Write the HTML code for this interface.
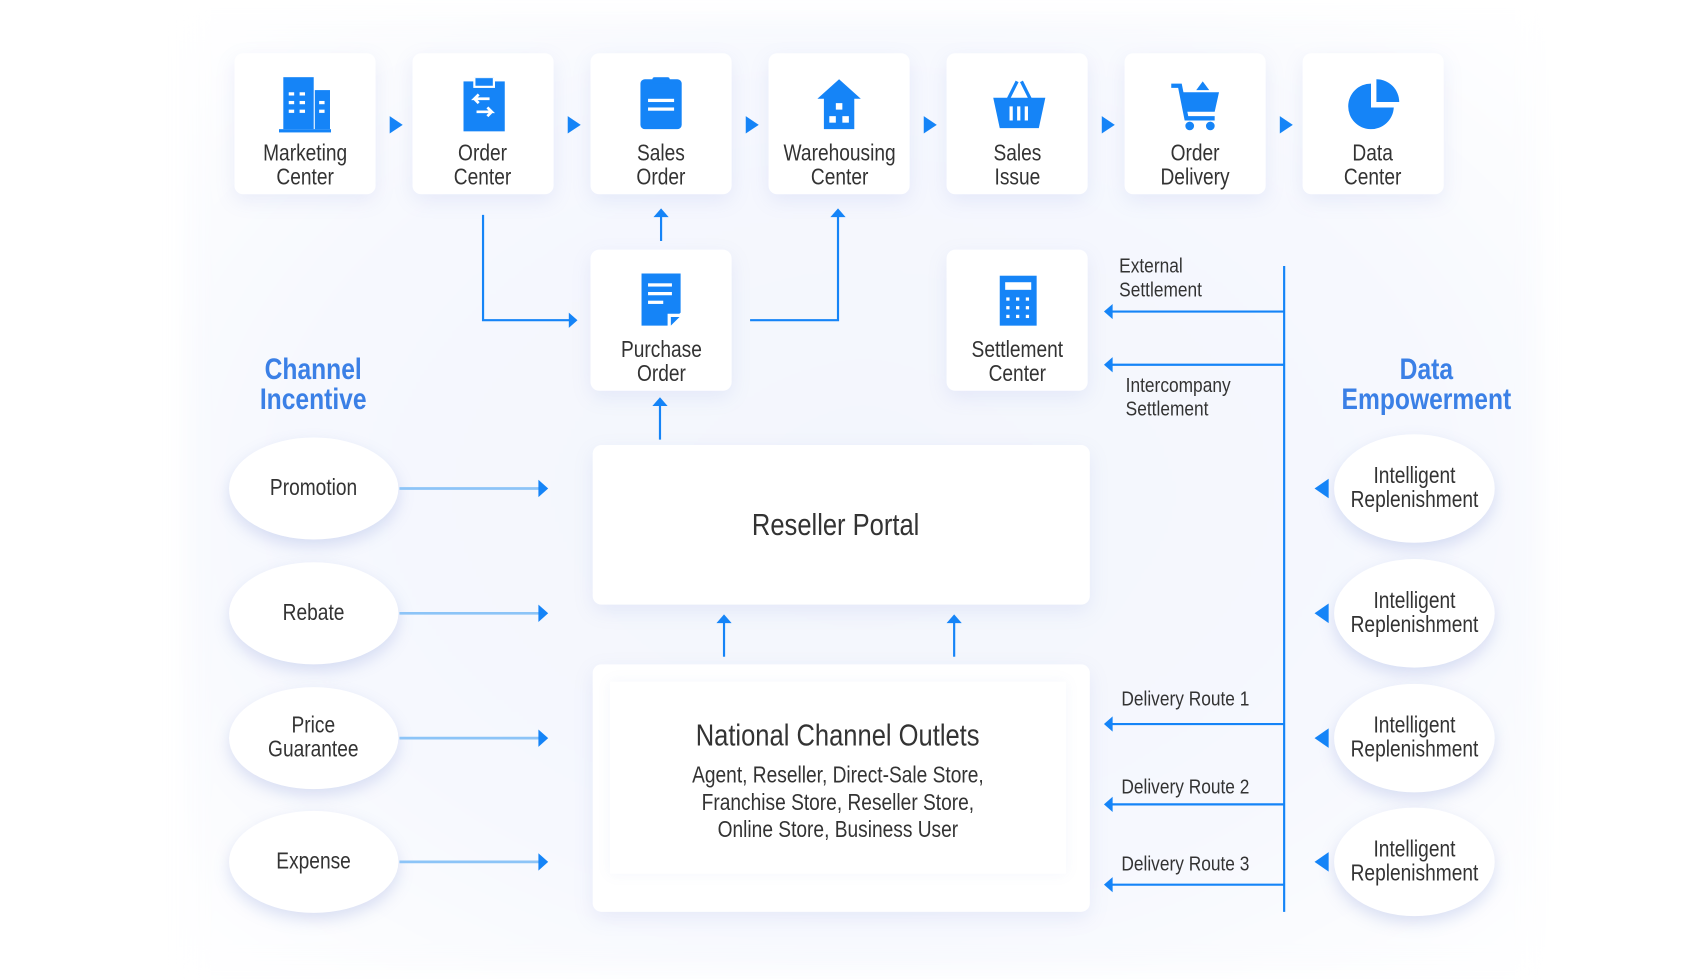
<!DOCTYPE html>
<html><head><meta charset="utf-8"><style>
html,body{margin:0;padding:0;background:#fff;width:1702px;height:979px;overflow:hidden}
#w{position:absolute;left:0;top:0;width:1568px;height:902px;transform:scale(1.0855);transform-origin:0 0;font-family:"Liberation Sans",sans-serif;color:#333}
.n{display:inline-block;transform:scaleX(.84);transform-origin:center}
.bg{position:absolute;left:170px;top:15px;width:1250px;height:880px;background:radial-gradient(ellipse at center,#f3f6fd 0%,#f6f8fe 60%,#fff 100%);filter:blur(10px)}
.box{position:absolute;background:#fff;border-radius:8px;box-shadow:0 6px 18px rgba(120,140,220,.13)}
.tb{width:130px;height:130px;text-align:center}
.tb .t{position:absolute;left:-20px;right:-20px;top:82px;font-size:21px;line-height:22px}
.tb svg{position:absolute;left:41px;top:22px}
.ell{position:absolute;background:#fff;border-radius:50%;box-shadow:0 6px 14px rgba(120,140,210,.25);display:flex;align-items:center;justify-content:center;text-align:center;font-size:21px;line-height:22px}
.h{position:absolute;color:#3b80e6;font-weight:bold;font-size:27px;line-height:28px;text-align:center}
.lbl{position:absolute;font-size:19px;line-height:22px;color:#333}
.lbl .n{transform-origin:left}
svg.ov{position:absolute;left:0;top:0}
</style></head><body><div id="w">
<div class="bg"></div>

<div class="box tb" style="left:216px;top:49px"><svg width="48" height="52" viewBox="0 0 48 52"><rect x="4" y="0" width="28" height="48" fill="#1584f7"/><rect x="33" y="12" width="14" height="36" fill="#1584f7"/><rect x="0" y="48" width="48" height="3" fill="#1584f7"/><g fill="#fff"><rect x="9" y="14" width="5" height="3"/><rect x="19" y="14" width="5" height="3"/><rect x="9" y="22" width="5" height="3"/><rect x="19" y="22" width="5" height="3"/><rect x="9" y="30" width="5" height="3"/><rect x="19" y="30" width="5" height="3"/><rect x="37" y="22" width="5" height="3"/><rect x="37" y="30" width="5" height="3"/></g></svg><div class="t"><span class="n">Marketing<br>Center</span></div></div>
<div class="box tb" style="left:380px;top:49px"><svg width="48" height="52" viewBox="0 0 48 52"><rect x="6" y="4" width="38" height="46" fill="#1584f7"/><rect x="16" y="0" width="18" height="9" fill="#1584f7" stroke="#fff" stroke-width="2"/><path d="M30 20H16l4-4M16 20l4 4M18 32h14l-4-4M32 32l-4 4" stroke="#fff" stroke-width="2.5" fill="none"/></svg><div class="t"><span class="n">Order<br>Center</span></div></div>
<div class="box tb" style="left:544px;top:49px"><svg width="48" height="52" viewBox="0 0 48 52"><rect x="5" y="2" width="38" height="46" rx="4" fill="#1584f7"/><rect x="16" y="0" width="16" height="6" rx="2" fill="#1584f7"/><rect x="12" y="20" width="24" height="3" fill="#fff"/><rect x="12" y="28" width="24" height="3" fill="#fff"/></svg><div class="t"><span class="n">Sales<br>Order</span></div></div>
<div class="box tb" style="left:708px;top:49px"><svg width="48" height="52" viewBox="0 0 48 52"><path d="M24 2L4 20h6v28h28V20h6z" fill="#1584f7"/><g fill="#fff"><rect x="21" y="24" width="6" height="6"/><rect x="15" y="36" width="6" height="6"/><rect x="27" y="36" width="6" height="6"/></g></svg><div class="t"><span class="n">Warehousing<br>Center</span></div></div>
<div class="box tb" style="left:872px;top:49px"><svg width="52" height="52" viewBox="0 0 52 52"><path d="M16 20L24 4M36 20L28 4" stroke="#1584f7" stroke-width="3"/><path d="M2 19h48l-6 28H8z" fill="#1584f7"/><g fill="#fff"><rect x="17" y="27" width="3" height="13"/><rect x="24" y="27" width="3" height="13"/><rect x="31" y="27" width="3" height="13"/></g></svg><div class="t"><span class="n">Sales<br>Issue</span></div></div>
<div class="box tb" style="left:1036px;top:49px"><svg width="50" height="52" viewBox="0 0 50 52"><path d="M2 8h8l6 30h26" stroke="#1584f7" stroke-width="4" fill="none"/><path d="M12 14h34l-4 18H16z" fill="#1584f7"/><path d="M31 4l6 8H25z" fill="#1584f7"/><circle cx="19" cy="45" r="4" fill="#1584f7"/><circle cx="38" cy="45" r="4" fill="#1584f7"/></svg><div class="t"><span class="n">Order<br>Delivery</span></div></div>
<div class="box tb" style="left:1200px;top:49px"><svg width="52" height="52" viewBox="0 0 52 52"><path d="M22 6A21 21 0 1 0 43 28H22z" fill="#1584f7"/><path d="M27 2A21 21 0 0 1 48 23H27z" fill="#1584f7"/></svg><div class="t"><span class="n">Data<br>Center</span></div></div>

<div class="box tb" style="left:544px;top:230px"><svg width="48" height="52" viewBox="0 0 48 52"><path d="M6 0h36v36l-12 12H6z" fill="#1584f7"/><g fill="#fff"><rect x="12" y="9" width="22" height="3"/><rect x="12" y="17" width="22" height="3"/><rect x="12" y="25" width="14" height="3"/></g><path d="M30 37h12L30 49z" fill="#fff"/><path d="M33 40h8l-8 8z" fill="#1584f7"/></svg><div class="t"><span class="n">Purchase<br>Order</span></div></div>
<div class="box tb" style="left:872px;top:230px"><svg width="48" height="52" viewBox="0 0 48 52"><rect x="8" y="2" width="34" height="46" fill="#1584f7"/><rect x="13" y="8" width="24" height="7" fill="#fff"/><g fill="#fff"><rect x="14" y="22" width="3" height="3"/><rect x="23" y="22" width="3" height="3"/><rect x="32" y="22" width="3" height="3"/><rect x="14" y="30" width="3" height="3"/><rect x="23" y="30" width="3" height="3"/><rect x="32" y="30" width="3" height="3"/><rect x="14" y="38" width="3" height="3"/><rect x="23" y="38" width="3" height="3"/><rect x="32" y="38" width="3" height="3"/></g></svg><div class="t"><span class="n">Settlement<br>Center</span></div></div>

<div class="box" style="left:546px;top:410px;width:458px;height:147px;display:flex;align-items:center;justify-content:center;font-size:28px;padding-left:0"><span class="n" style="margin-left:-10px">Reseller Portal</span></div>
<div class="box" style="left:546px;top:612px;width:458px;height:228px"></div>
<div style="position:absolute;left:562px;top:628px;width:420px;height:177px;background:#fff;box-shadow:0 0 12px rgba(120,140,220,.08);text-align:center">
<div style="font-size:28px;margin-top:34px"><span class="n">National Channel Outlets</span></div>
<div style="font-size:21px;line-height:25px;margin-top:8px"><span class="n">Agent, Reseller, Direct-Sale Store,<br>Franchise Store, Reseller Store,<br>Online Store, Business User</span></div></div>

<div class="h" style="left:189px;top:326px;width:200px"><span class="n">Channel<br>Incentive</span></div>
<div class="h" style="left:1204px;top:326px;width:220px"><span class="n">Data<br>Empowerment</span></div>

<div class="ell" style="left:211px;top:403px;width:156px;height:94px"><span class="n">Promotion</span></div>
<div class="ell" style="left:211px;top:518px;width:156px;height:94px"><span class="n">Rebate</span></div>
<div class="ell" style="left:211px;top:633px;width:156px;height:94px"><span class="n">Price<br>Guarantee</span></div>
<div class="ell" style="left:211px;top:747px;width:156px;height:94px"><span class="n">Expense</span></div>

<div class="ell" style="left:1229px;top:400px;width:148px;height:100px"><span class="n">Intelligent<br>Replenishment</span></div>
<div class="ell" style="left:1229px;top:515px;width:148px;height:100px"><span class="n">Intelligent<br>Replenishment</span></div>
<div class="ell" style="left:1229px;top:630px;width:148px;height:100px"><span class="n">Intelligent<br>Replenishment</span></div>
<div class="ell" style="left:1229px;top:744px;width:148px;height:100px"><span class="n">Intelligent<br>Replenishment</span></div>

<div class="lbl" style="left:1031px;top:235px"><span class="n">External<br>Settlement</span></div>
<div class="lbl" style="left:1037px;top:345px"><span class="n">Intercompany<br>Settlement</span></div>
<div class="lbl" style="left:1033px;top:634px"><span class="n">Delivery Route 1</span></div>
<div class="lbl" style="left:1033px;top:715px"><span class="n">Delivery Route 2</span></div>
<div class="lbl" style="left:1033px;top:786px"><span class="n">Delivery Route 3</span></div>

<svg class="ov" width="1568" height="902">
<g fill="#1584f7">
<path d="M359 107l12 8-12 8z"/><path d="M523 107l12 8-12 8z"/><path d="M687 107l12 8-12 8z"/><path d="M851 107l12 8-12 8z"/><path d="M1015 107l12 8-12 8z"/><path d="M1179 107l12 8-12 8z"/>
</g>
<g stroke="#1584f7" stroke-width="2" fill="none">
<path d="M445 198V295H526"/><path d="M691 295H772V198"/><path d="M609 222V198"/><path d="M608 405V372"/>
<path d="M667 605V572"/><path d="M879 605V572"/>
<path d="M1183 245V840"/>
<path d="M1183 287H1022"/><path d="M1183 336H1022"/><path d="M1183 667H1022"/><path d="M1183 741H1022"/><path d="M1183 815H1022"/>
</g>
<g stroke="#8cc4f7" stroke-width="2.5"><path d="M368 450H498"/><path d="M368 565H498"/><path d="M368 680H498"/><path d="M368 794H498"/></g>
<g fill="#1584f7">
<path d="M524 288l8 7-8 7z"/><path d="M765 200l7-8 7 8z"/><path d="M602 200l7-8 7 8z"/><path d="M601 374l7-8 7 8z"/>
<path d="M660 574l7-8 7 8z"/><path d="M872 574l7-8 7 8z"/>
<path d="M1025 280l-8 7 8 7z"/><path d="M1025 329l-8 7 8 7z"/><path d="M1025 660l-8 7 8 7z"/><path d="M1025 734l-8 7 8 7z"/><path d="M1025 808l-8 7 8 7z"/>
<path d="M496 442l9 8-9 8z"/><path d="M496 557l9 8-9 8z"/><path d="M496 672l9 8-9 8z"/><path d="M496 786l9 8-9 8z"/>
<path d="M1224 441l-13 9 13 9z"/><path d="M1224 556l-13 9 13 9z"/><path d="M1224 671l-13 9 13 9z"/><path d="M1224 785l-13 9 13 9z"/>
</g>
</svg>
</div></body></html>
